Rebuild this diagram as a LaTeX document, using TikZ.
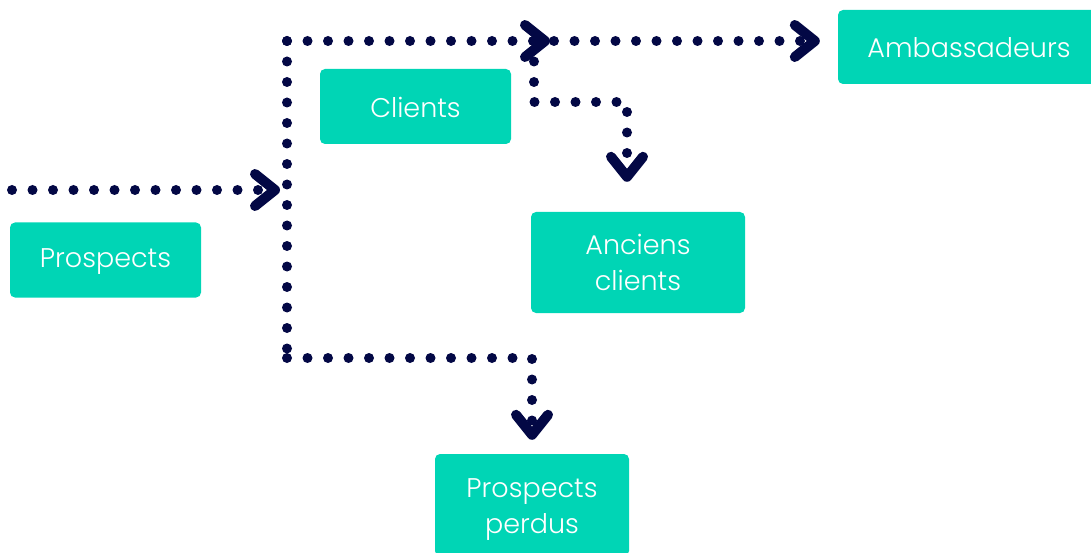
\documentclass[tikz,border=0pt]{standalone}
\usepackage{fontspec}
\setmainfont{Poppins Light}
\usetikzlibrary{arrows.meta}
\definecolor{stagegreen}{HTML}{00D5B5}
\definecolor{navy}{HTML}{030845}
\newcommand{\firstline}{\rule{0pt}{27pt}}
\tikzstyle{stage} = [rectangle, rounded corners=5pt, minimum width=191pt, minimum height=75pt, inner sep=0pt, text centered, align=center, fill=stagegreen, text=white, font=\fontsize{27}{36}\selectfont, execute at begin node={\rule{0pt}{22pt}}]
\tikzstyle{trunk} = [navy, line width=10pt, line cap=round, dash pattern=on 0pt off 20.5pt]
\tikzstyle{flow} = [trunk, -{Straight Barb[length=20pt, width=32pt, round]}]

\begin{document}
\begin{tikzpicture}[x=1pt, y=-1pt]
\clip (0,0) rectangle (1091,553);
\node (prospects) [stage] at (105.5,260) {Prospects};
\node (clients) [stage] at (415.5,106.5) {Clients};
\node (anciens) [stage, minimum width=214pt, minimum height=101pt] at (638,262.5) {Anciens\\clients};
\node (ambass) [stage, minimum width=262pt, minimum height=74pt] at (969,47) {Ambassadeurs};
\node (perdus) [stage, minimum width=194pt, minimum height=102pt] at (532,505) {\firstline Prospects\\perdus};

\coordinate (entry) at (12,190);
\coordinate (hub) at (287,190);
\coordinate (top) at (287,41);
\coordinate (bottom) at (287,358);
\coordinate (fork) at (534,41);

\draw [trunk] (top) -- (bottom);
\draw [flow, shorten >=7pt] (entry) -- (hub);
\draw [flow] (top) -- ([xshift=16pt]fork);
\draw [flow, shorten >=18pt] ([xshift=20pt]fork) -- (ambass.west |- fork);
\draw [flow, shorten >=30pt] (fork) -- ++(0,61) -| ([xshift=-11pt]anciens.north);
\draw [flow, shorten >=14pt] (bottom) -| (perdus);
\end{tikzpicture}
\end{document}
